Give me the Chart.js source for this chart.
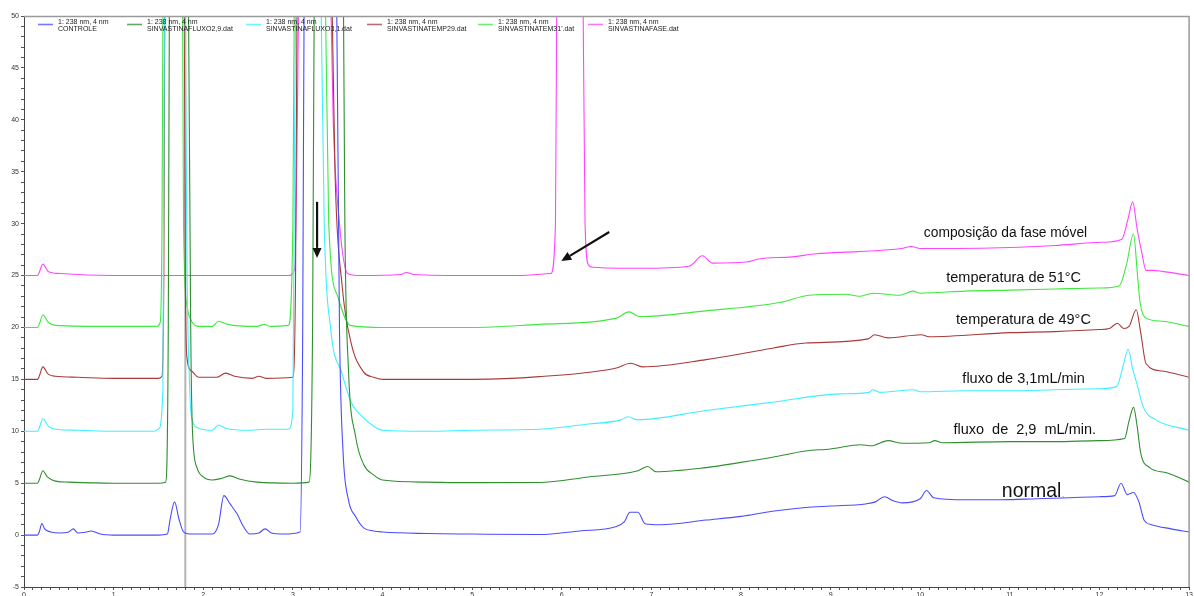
<!DOCTYPE html>
<html>
<head>
<meta charset="utf-8">
<script src="https://cdn.jsdelivr.net/npm/chart.js@4.4.1/dist/chart.umd.min.js"></script>
<style>
  html, body { margin: 0; padding: 0; background: #fff; overflow: hidden; }
  #wrap { position: absolute; left: 0; top: 0; width: 1194px; height: 596px; }
</style>
</head>
<body>
<div id="wrap"><canvas id="c" width="1194" height="596"></canvas></div>
<script>
// ---------------- DATA ----------------
const legendLine1 = "1: 238 nm, 4 nm";
const seriesNames = ["CONTROLE", "SINVASTINAFLUXO2,9.dat", "SINVASTINAFLUXO3,1.dat",
                     "SINVASTINATEMP29.dat", "SINVASTINATEM31'.dat", "SINVASTINAFASE.dat"];

const xTickLabels = [0,1,2,3,4,5,6,7,8,9,10,11,12,13];
const yTickLabels = [-5,0,5,10,15,20,25,30,35,40,45,50];

// CONTROLE (normal)
const controleX = [0,0.15,0.17,0.2,0.23,0.3,0.4,0.5,0.55,0.6,0.7,0.75,0.85,1.0,1.5,1.6,1.63,1.68,1.73,1.78,1.85,2.1,2.17,2.23,2.3,2.38,2.45,2.52,2.62,2.69,2.76,2.9,3.08,3.11,3.13,3.3,3.48,3.52,3.56,3.62,3.7,3.79,3.9,4.0,4.5,5.0,5.75,6.2,6.6,6.7,6.76,6.85,6.93,7.1,7.61,8.0,8.35,8.72,9.0,9.39,9.5,9.6,9.7,9.8,10.0,10.07,10.15,10.5,10.9,11.3,11.67,12.0,12.17,12.24,12.31,12.38,12.44,12.5,12.58,12.8,13.0];
const controleY = [0,0,0.3,1.1,0.6,0.3,0.2,0.3,0.6,0.2,0.3,0.4,0.1,0,0,0.1,1.5,3.2,1.5,0.3,0.1,0.1,1.0,3.8,3.0,2.0,0.8,0.1,0.2,0.6,0.2,0.1,0.3,20,60,100,60,20,8,3.4,1.8,0.7,0.4,0.3,0.15,0.1,0.05,0.4,0.8,1.3,2.2,2.2,1.1,1.0,1.45,1.8,2.3,2.66,2.8,3.0,3.2,3.7,3.3,3.1,3.5,4.3,3.6,3.4,3.4,3.5,3.6,3.7,3.8,5.0,3.9,4.1,3.2,1.4,1.0,0.6,0.3];

// SINVASTINAFLUXO2,9 (fluxo de 2,9 mL/min)
const fluxo29X = [0,0.15,0.17,0.21,0.26,0.35,0.5,1.0,1.5,1.58,1.61,1.63,1.72,1.82,1.86,1.88,1.93,2.0,2.1,2.22,2.3,2.4,2.6,3.0,3.18,3.22,3.25,3.4,3.55,3.58,3.62,3.7,3.79,3.9,4.0,4.5,5.0,5.75,6.3,6.85,6.96,7.05,7.61,8.0,8.35,8.72,9.0,9.34,9.45,9.64,9.8,10.1,10.16,10.25,11.0,11.5,12.0,12.28,12.33,12.38,12.42,12.46,12.56,12.75,13.0];
const fluxo29Y = [5,5,5.3,6.2,5.6,5.2,5.1,5.0,5.0,5.1,20,70,100,70,20,10,6.5,5.6,5.3,5.5,5.7,5.4,5.1,5.0,5.1,20,70,100,70,30,16,9.5,6.8,5.8,5.3,5.1,5.05,5.07,5.6,6.2,6.6,6.1,6.5,7.0,7.5,8.1,8.3,8.7,8.6,9.1,8.85,8.9,9.1,8.9,9.0,9.0,9.1,9.3,11.0,12.3,10.5,7.9,6.5,6.0,5.1];

// SINVASTINAFLUXO3,1 (fluxo de 3,1 mL/min)
const fluxo31X = [0,0.15,0.17,0.21,0.27,0.35,0.6,1.0,1.45,1.5,1.55,1.57,1.68,1.79,1.82,1.85,1.87,1.95,2.1,2.17,2.25,2.5,2.7,2.95,3.0,3.02,3.15,3.3,3.35,3.42,3.55,3.65,3.79,3.9,4.0,4.5,5.0,5.75,6.3,6.66,6.74,6.84,7.61,8.35,9.1,9.43,9.47,9.55,9.93,10.0,10.5,11.0,11.5,12.0,12.19,12.27,12.32,12.37,12.42,12.49,12.63,13.0];
const fluxo31Y = [10,10,10.3,11.2,10.5,10.2,10.1,10.0,10.0,10.2,14,60,100,60,25,14,11.3,10.3,10.1,10.6,10.3,10.1,10.2,10.2,12,40,100,60,30,20,15.5,12.8,11.3,10.5,10.1,10.0,10.1,10.2,10.7,11.1,11.4,11.1,12.0,12.8,13.6,13.75,14.0,13.75,14.0,13.8,13.9,13.9,14.0,14.1,14.3,16.5,17.9,16.0,14.5,12.3,11.1,10.1];

// SINVASTINATEMP29 (temperatura de 49°C)
const temp29X = [0,0.15,0.17,0.21,0.27,0.35,0.6,1.0,1.5,1.54,1.56,1.58,1.68,1.78,1.8,1.82,1.87,1.95,2.15,2.25,2.35,2.55,2.62,2.7,3.0,3.03,3.06,3.25,3.42,3.47,3.55,3.65,3.79,3.9,4.0,5.0,5.75,6.61,6.77,6.9,7.61,8.35,8.72,9.42,9.49,9.64,10.01,10.1,11.0,11.5,12.0,12.11,12.2,12.27,12.33,12.41,12.46,12.52,12.7,13.0];
const temp29Y = [15,15,15.3,16.2,15.5,15.3,15.2,15.1,15.1,15.3,25,70,100,70,25,17,15.8,15.2,15.2,15.6,15.3,15.1,15.3,15.1,15.2,25,70,100,60,35,24,18.5,15.7,15.2,15.0,15.0,15.26,16.1,16.55,16.2,16.9,18.0,18.5,18.9,19.3,19.0,19.3,19.1,19.5,19.6,19.8,19.9,20.4,19.9,20.1,21.7,19.5,16.5,15.8,15.2];

// SINVASTINATEM31 (temperatura de 51°C)
const tem31X = [0,0.15,0.17,0.21,0.27,0.35,1.0,1.48,1.52,1.54,1.56,1.66,1.76,1.78,1.82,1.87,1.95,2.1,2.17,2.27,2.6,2.68,2.75,2.95,3.0,3.03,3.2,3.35,3.4,3.5,3.64,4.0,5.0,5.75,6.61,6.75,6.87,7.61,8.43,8.76,9.17,9.32,9.47,9.77,9.92,10.0,10.5,11.0,11.5,12.0,12.22,12.3,12.38,12.42,12.45,12.52,12.7,13.0];
const tem31Y = [20,20,20.3,21.2,20.5,20.2,20.1,20.1,20.5,30,70,100,70,30,22,20.6,20.1,20.1,20.6,20.3,20.1,20.3,20.1,20.2,30,70,100,60,30,23,20.2,20.0,20.0,20.3,20.9,21.5,21.05,21.6,22.4,23.1,23.2,23.0,23.3,23.1,23.5,23.3,23.5,23.6,23.7,23.8,24.0,26,29.0,25.5,22.6,20.9,20.6,20.1];

// SINVASTINAFASE (composição da fase móvel)
const faseX = [0,0.15,0.17,0.21,0.27,0.4,1.0,2.0,2.95,3.02,3.05,3.1,3.25,3.38,3.45,3.52,3.61,3.75,4.2,4.27,4.35,5.0,5.5,5.88,5.93,5.95,6.1,6.23,6.26,6.3,6.35,6.87,7.42,7.57,7.68,8.06,8.2,8.57,8.84,9.3,9.79,9.9,10.0,11.0,11.5,12.03,12.25,12.32,12.37,12.42,12.47,12.52,12.6,12.7,13.0];
const faseY = [25,25,25.3,26.1,25.4,25.2,25.0,25.0,25.0,25.6,40,80,100,70,40,30,25.2,25.0,25.1,25.3,25.1,25.0,25.0,25.2,30,60,100,60,30,26,25.8,25.7,25.9,26.9,26.2,26.3,26.6,26.8,27.1,27.3,27.6,27.8,27.6,27.7,27.9,28.2,28.5,30.5,32.1,29.5,27.3,25.5,25.5,25.4,25.0];

const seriesColors = ["#4b4bff", "#2f8f2f", "#3ff0ff", "#a83a3a", "#40e840", "#ff45ff"];

// ---------------- CHART ----------------
function pts(xs, ys) { return xs.map((x, i) => ({ x: x, y: ys[i] })); }
const seriesXs = [controleX, fluxo29X, fluxo31X, temp29X, tem31X, faseX];
const seriesYs = [controleY, fluxo29Y, fluxo31Y, temp29Y, tem31Y, faseY];

const datasets = seriesNames.map((name, i) => ({
  label: name,
  data: pts(seriesXs[i], seriesYs[i]),
  borderColor: seriesColors[i],
  borderWidth: 1.1,
  pointRadius: 0,
  fill: false,
  cubicInterpolationMode: 'monotone'
}));

const decor = {
  id: 'decor',
  beforeDatasetsDraw(chart) {
    const { ctx, chartArea: a, scales: { x } } = chart;
    const px = x.getPixelForValue(1.8);
    ctx.save();
    ctx.strokeStyle = '#b4b4b4';
    ctx.lineWidth = 2;
    ctx.beginPath(); ctx.moveTo(px, a.top); ctx.lineTo(px, a.bottom); ctx.stroke();
    ctx.restore();
  },
  afterDatasetsDraw(chart) {
    const { ctx, chartArea: a, scales: { x, y } } = chart;
    ctx.save();
    ctx.strokeStyle = '#9a9a9a';
    ctx.lineWidth = 1.5;
    ctx.beginPath();
    ctx.moveTo(a.left, a.top + 0.5); ctx.lineTo(a.right, a.top + 0.5); ctx.lineTo(a.right, a.bottom);
    ctx.stroke();

    const starts = [38, 127, 246, 367, 478, 588];
    ctx.font = '7px "Liberation Sans", Arial, sans-serif';
    ctx.textBaseline = 'alphabetic';
    ctx.textAlign = 'left';
    chart.data.datasets.forEach((ds, i) => {
      const sx = starts[i];
      ctx.strokeStyle = ds.borderColor;
      ctx.globalAlpha = 0.75;
      ctx.lineWidth = 1.6;
      ctx.beginPath(); ctx.moveTo(sx, 24.5); ctx.lineTo(sx + 15, 24.5); ctx.stroke();
      ctx.globalAlpha = 1;
      ctx.fillStyle = '#222';
      ctx.fillText(legendLine1, sx + 20, 23.5);
      ctx.fillText(ds.label, sx + 20, 30.5);
    });

    const notes = [
      { t: 'composição da fase móvel', x: 10.04, y: 29.1, s: 13.8 },
      { t: 'temperatura de 51°C', x: 10.29, y: 24.8, s: 14.5 },
      { t: 'temperatura de 49°C', x: 10.40, y: 20.76, s: 14.5 },
      { t: 'fluxo de 3,1mL/min', x: 10.47, y: 15.07, s: 14.5 },
      { t: 'fluxo  de  2,9  mL/min.', x: 10.37, y: 10.15, s: 14.5 }
    ];
    ctx.fillStyle = '#111';
    ctx.textBaseline = 'middle';
    notes.forEach(n => {
      ctx.font = n.s + 'px "Liberation Sans", Arial, sans-serif';
      ctx.fillText(n.t, x.getPixelForValue(n.x), y.getPixelForValue(n.y));
    });
    ctx.font = '19.5px "Liberation Sans", Arial, sans-serif';
    const nx = x.getPixelForValue(10.91), ny = y.getPixelForValue(4.18);
    ctx.fillText('normal', nx, ny);
    const w = ctx.measureText('normal').width;
    ctx.fillStyle = '#888';
    ctx.font = '12px "Liberation Sans", Arial, sans-serif';
    ctx.fillText('.', nx + w, ny + 3);

    function arrow(x0, y0, x1, y1) {
      const p0x = x.getPixelForValue(x0), p0y = y.getPixelForValue(y0);
      const p1x = x.getPixelForValue(x1), p1y = y.getPixelForValue(y1);
      const ang = Math.atan2(p1y - p0y, p1x - p0x);
      const hl = 10, hw = 4.5;
      const bx = p1x - hl * Math.cos(ang), by = p1y - hl * Math.sin(ang);
      ctx.strokeStyle = '#111'; ctx.fillStyle = '#111'; ctx.lineWidth = 2.2;
      ctx.beginPath(); ctx.moveTo(p0x, p0y); ctx.lineTo(bx, by); ctx.stroke();
      ctx.beginPath();
      ctx.moveTo(p1x, p1y);
      ctx.lineTo(bx + hw * Math.sin(ang), by - hw * Math.cos(ang));
      ctx.lineTo(bx - hw * Math.sin(ang), by + hw * Math.cos(ang));
      ctx.closePath(); ctx.fill();
    }
    arrow(3.27, 32.1, 3.27, 26.7);
    arrow(6.53, 29.2, 5.995, 26.4);
    ctx.restore();
  }
};

new Chart(document.getElementById('c'), {
  type: 'line',
  data: { datasets },
  plugins: [decor],
  options: {
    responsive: false,
    animation: false,
    devicePixelRatio: 1,
    layout: { padding: { top: 16, right: 3, left: 0, bottom: 0 } },
    plugins: { legend: { display: false }, tooltip: { enabled: false } },
    elements: { line: { tension: 0.4 } },
    scales: {
      x: {
        type: 'linear', min: 0, max: 13,
        afterFit: s => { s.height = 9; },
        ticks: {
          stepSize: 0.1, autoSkip: false, maxRotation: 0, padding: 1,
          color: '#333', font: { size: 7, family: '"Liberation Sans", Arial, sans-serif' },
          callback: v => { const r = Math.round(v); return (Math.abs(v - r) < 1e-6 && xTickLabels.includes(r)) ? String(r) : ''; }
        },
        grid: { drawOnChartArea: false, drawTicks: true, tickLength: 3, color: '#555' },
        border: { display: true, color: '#444', width: 1 }
      },
      y: {
        min: -5, max: 50,
        afterFit: s => { s.width = 24; },
        ticks: {
          stepSize: 1, autoSkip: false, padding: 2,
          color: '#333', font: { size: 7, family: '"Liberation Sans", Arial, sans-serif' },
          callback: v => yTickLabels.includes(v) ? String(v) : ''
        },
        grid: { drawOnChartArea: false, drawTicks: true, tickLength: 3, color: '#555' },
        border: { display: true, color: '#444', width: 1 }
      }
    }
  }
});
</script>
</body>
</html>
